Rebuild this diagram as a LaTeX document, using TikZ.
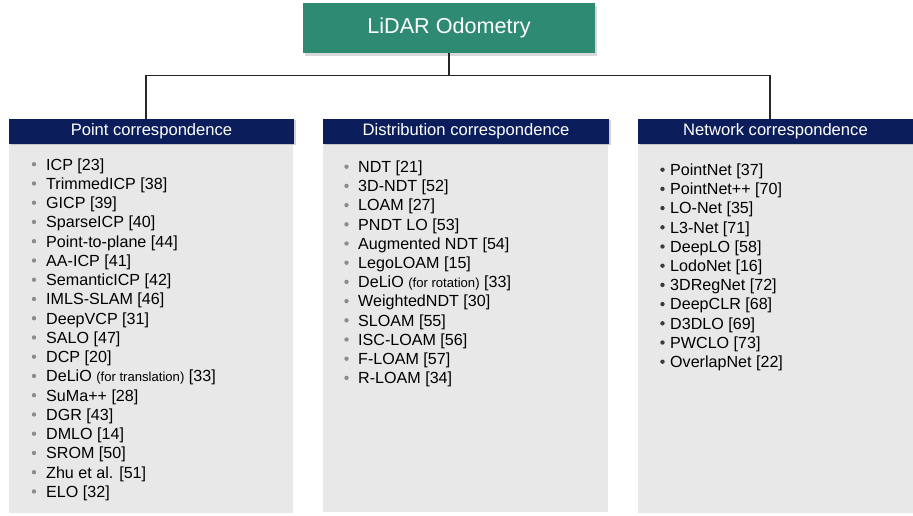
\documentclass[tikz,border=0pt]{standalone}
\usepackage{fontspec}
\setmainfont{Liberation Sans}
\usetikzlibrary{shadows}
\definecolor{teal1}{HTML}{2E8A72}
\definecolor{navy1}{HTML}{0B1E5B}
\definecolor{panel1}{HTML}{E8E8E8}
\definecolor{bul1}{HTML}{8C8C8C}
\definecolor{bul2}{HTML}{3A3A3A}
\begin{document}
\begin{tikzpicture}[x=1pt,y=-1pt,
  titlebox/.style={fill=teal1, text=white, minimum width=292pt, minimum height=50pt, inner sep=0pt,
    font=\fontsize{21.6}{26}\selectfont, drop shadow={opacity=0.3, shadow xshift=1.5pt, shadow yshift=-2.5pt}},
  hdr/.style={fill=navy1, text=white, minimum height=25pt, inner sep=0pt,
    font=\fontsize{16.6}{19}\selectfont, drop shadow={opacity=0.35, shadow xshift=1.5pt, shadow yshift=-1.5pt}},
  panelbox/.style={fill=panel1, inner sep=0pt, draw=none},
  item/.style={anchor=base west, inner sep=0pt, font=\fontsize{16.1}{19}\selectfont},
  dotg/.style={circle, fill=bul1, inner sep=0pt, minimum size=4.4pt},
  dotd/.style={circle, fill=bul2, inner sep=0pt, minimum size=4.4pt},
  conn/.style={draw=black!85, line width=1.2pt}
]
\useasboundingbox (0,0) rectangle (913,515);
\fill[white] (0,0) rectangle (913,515);

% panels
\node[panelbox, minimum width=284pt, minimum height=370pt] (pan1) at (151,328) {};
\node[panelbox, minimum width=285pt, minimum height=369pt] (pan2) at (465.5,327.5) {};
\node[panelbox, minimum width=275pt, minimum height=370pt] (pan3) at (775.5,328) {};

% title and headers
\node[titlebox] (title) at (449,28) {LiDAR Odometry};
\node[hdr, minimum width=285pt] (h1) at (151.5,131) {Point correspondence};
\node[hdr, minimum width=286pt] (h2) at (466,131) {Distribution correspondence};
\node[hdr, minimum width=275pt] (h3) at (775.5,131) {Network correspondence};

% connectors
\coordinate (c1) at (146,118.5);
\coordinate (c3) at (770,118.5);
\draw[conn] (title.south) -- ++(0,22) -| (c1);
\draw[conn] (title.south) -- ++(0,22) -| (c3);

% point correspondence list
\foreach \t [count=\i] in {ICP [23], TrimmedICP [38], GICP [39], SparseICP [40], Point-to-plane [44],
  AA-ICP [41], SemanticICP [42], IMLS-SLAM [46], DeepVCP [31], SALO [47], DCP [20],
  {DeLiO {\fontsize{13.1}{15}\selectfont (for translation)} [33]}, SuMa++ [28], DGR [43], DMLO [14],
  SROM [50], Zhu et al. [51], ELO [32]}{
  \node[item] (p\i) at (46,{170+19.25*(\i-1)}) {\t};
  \node[dotg] (pb\i) at (34,{170+19.25*(\i-1)-5.8}) {};
}

% distribution correspondence list
\foreach \t [count=\i] in {NDT [21], 3D-NDT [52], LOAM [27], PNDT LO [53], Augmented NDT [54],
  LegoLOAM [15], {DeLiO {\fontsize{13.1}{15}\selectfont (for rotation)} [33]}, WeightedNDT [30],
  SLOAM [55], ISC-LOAM [56], F-LOAM [57], R-LOAM [34]}{
  \node[item] (d\i) at (358,{172.5+19.2*(\i-1)}) {\t};
  \node[dotg] (db\i) at (346.5,{172.5+19.2*(\i-1)-5.8}) {};
}

% network correspondence list
\foreach \t [count=\i] in {PointNet [37], PointNet++ [70], LO-Net [35], L3-Net [71], DeepLO [58],
  LodoNet [16], 3DRegNet [72], DeepCLR [68], D3DLO [69], PWCLO [73], OverlapNet [22]}{
  \node[item] (n\i) at (670,{175.5+19.2*(\i-1)}) {\t};
  \node[dotd] (nb\i) at (662.5,{175.5+19.2*(\i-1)-5.8}) {};
}
\end{tikzpicture}
\end{document}
